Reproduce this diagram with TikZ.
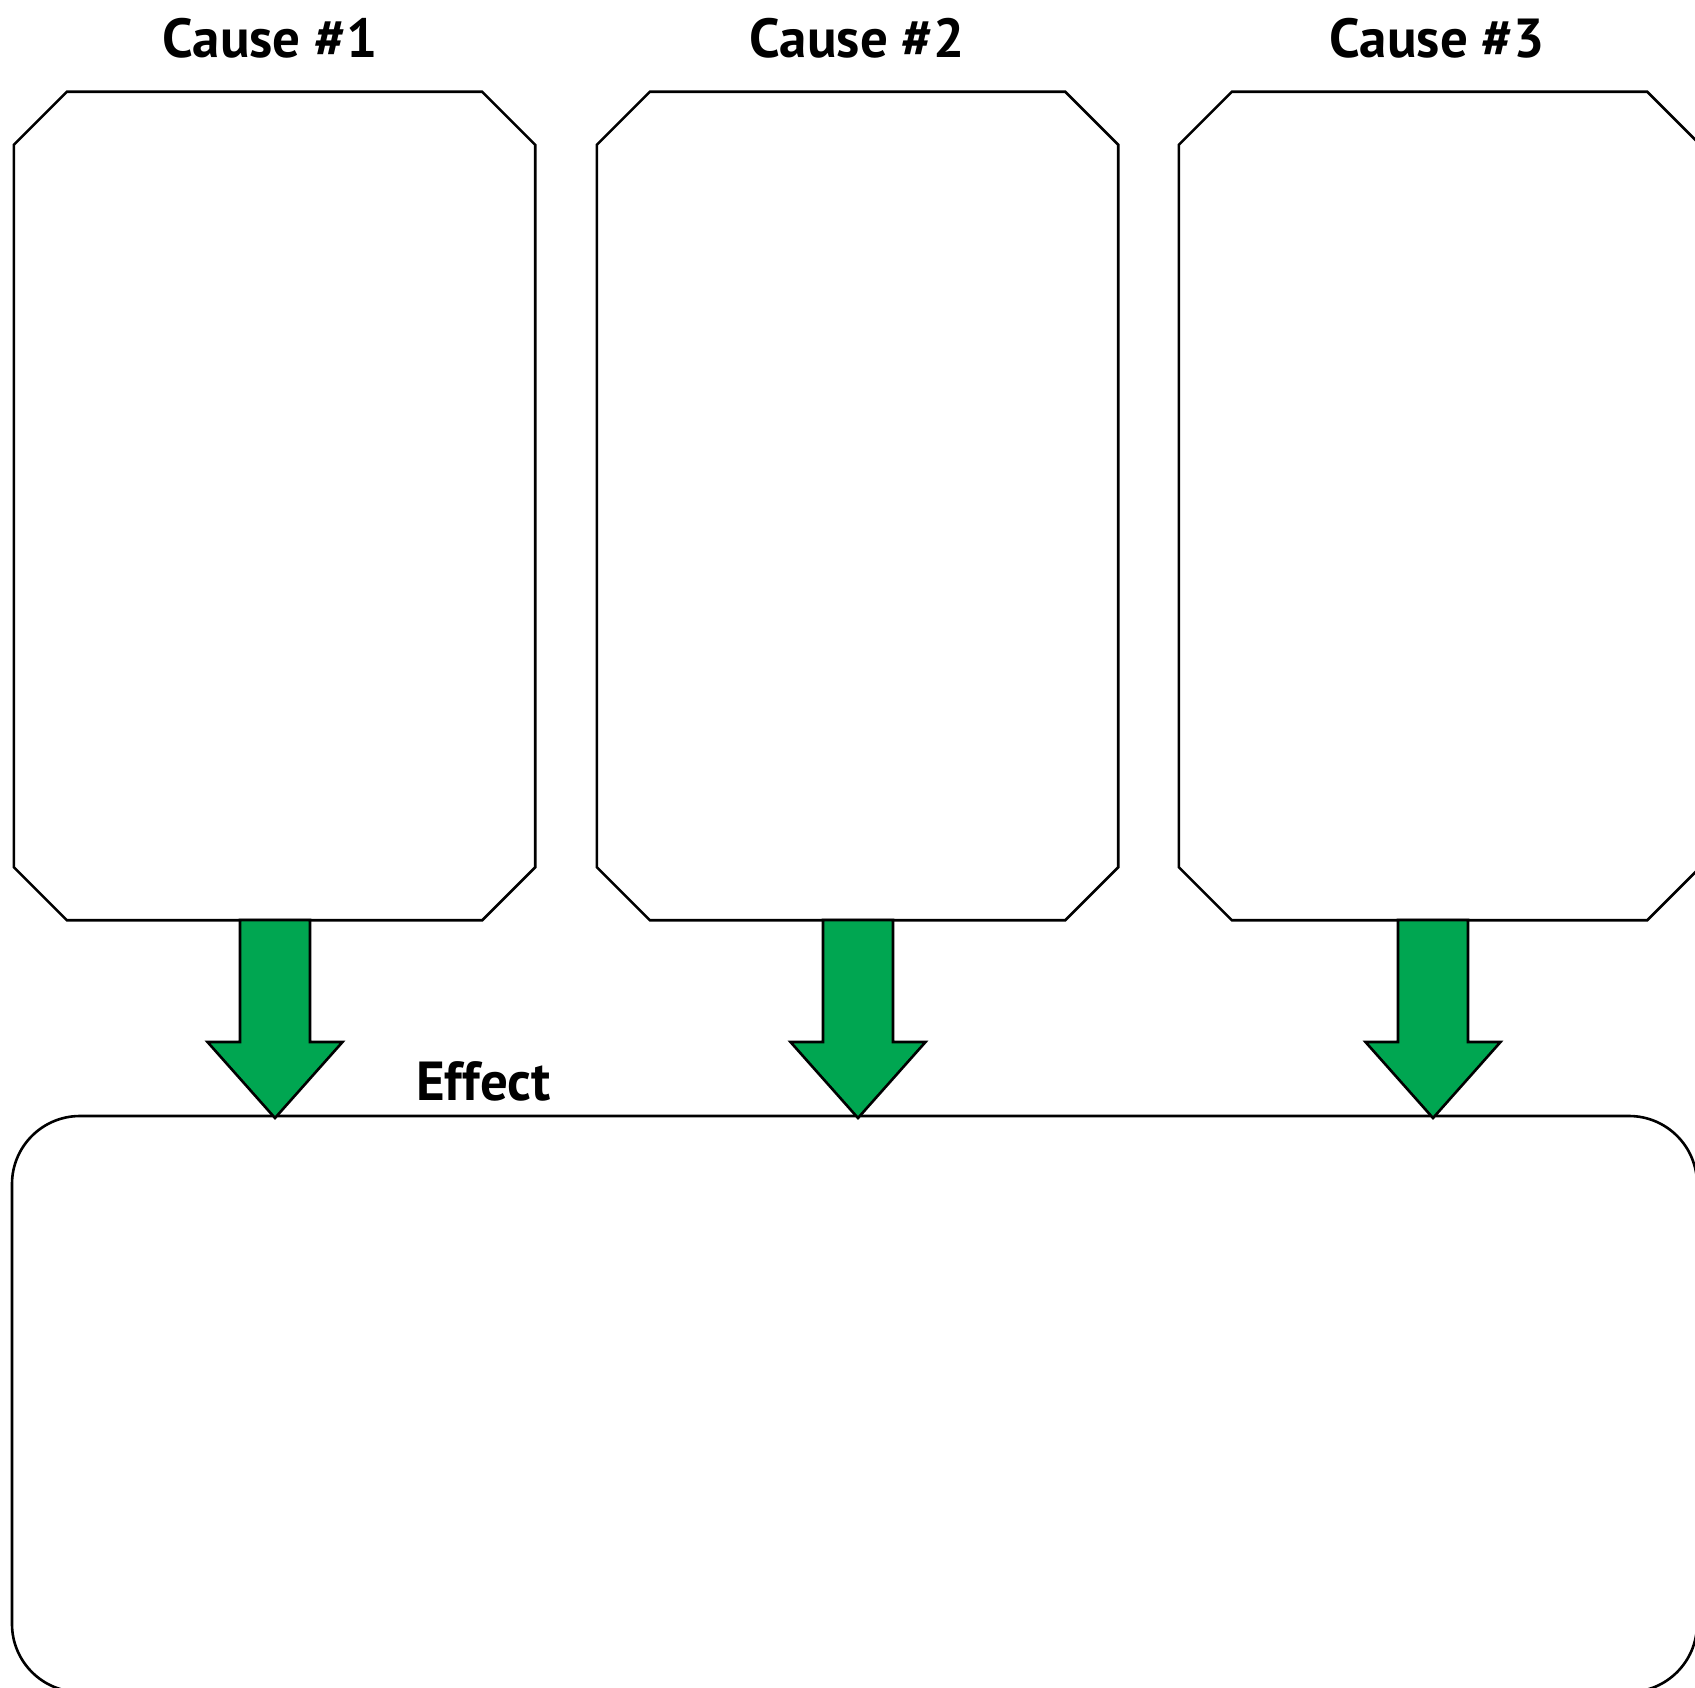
\documentclass[tikz,border=0pt]{standalone}
\usepackage{fontspec}
\setmainfont{PT Sans}
\definecolor{arrowgreen}{RGB}{0,166,81}
\tikzset{
  causeframe/.style={minimum width=521pt, minimum height=828pt, inner sep=0pt},
  outline/.style={draw=black, line width=2.6pt, line join=miter},
  effectbox/.style={draw=black, line width=2.6pt, rounded corners=68pt},
  blockarrow/.style={draw=black, line width=2.6pt, fill=arrowgreen, line join=miter},
  title/.style={font=\fontsize{55}{64}\selectfont\bfseries, inner sep=0pt}
}
\begin{document}
\begin{tikzpicture}[x=1pt,y=-1pt]
\useasboundingbox (0,0) rectangle (1695,1688);
\clip (0,0) rectangle (1695,1688);
\fill[white] (0,0) rectangle (1695,1688);
% titles
\node[title] (t1) at (270,38) {Cause \#1};
\node[title] (t2) at (857,38) {Cause \#2};
\node[title] (t3) at (1437,38) {Cause \#3};
% cause boxes (chamfered outlines drawn from named frames)
\foreach \n/\cx in {c1/274.5,c2/857.5,c3/1439.5}{
  \node[causeframe] (\n) at (\cx,506) {};
  \draw[outline] ([xshift=53pt]\n.north west) -- ([xshift=-53pt]\n.north east)
    -- ([yshift=-53pt]\n.north east) -- ([yshift=53pt]\n.south east)
    -- ([xshift=-53pt]\n.south east) -- ([xshift=53pt]\n.south west)
    -- ([yshift=53pt]\n.south west) -- ([yshift=-53pt]\n.north west) -- cycle;
}
% effect box
\node[effectbox, minimum width=1685pt, minimum height=576pt, inner sep=0pt] (eff) at (854.5,1404) {};
\node[title, anchor=west] (te) at (416,1081) {Effect};
% arrows
\foreach \cx in {275,858,1433}{
  \draw[blockarrow] (\cx-35,920) -- (\cx-35,1042) -- (\cx-67.5,1042) -- (\cx,1118) -- (\cx+67.5,1042) -- (\cx+35,1042) -- (\cx+35,920) -- cycle;
}
\end{tikzpicture}
\end{document}
